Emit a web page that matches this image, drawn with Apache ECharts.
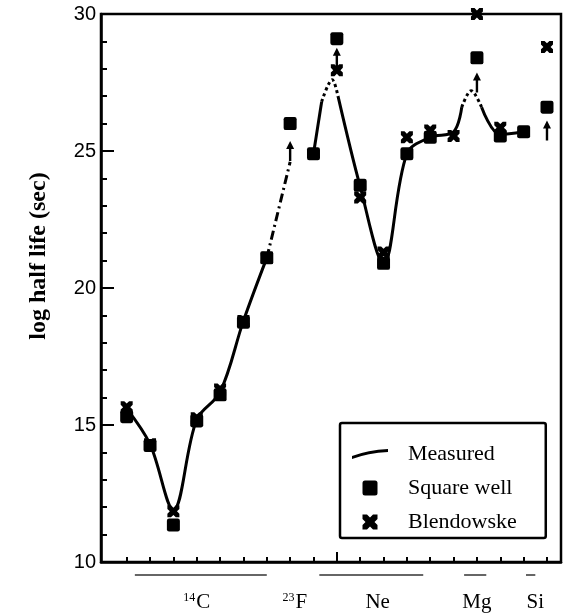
<!DOCTYPE html>
<html>
<head>
<meta charset="utf-8">
<script src="https://cdn.jsdelivr.net/npm/echarts@6/dist/echarts.min.js"></script>
<style>
  html, body { margin: 0; padding: 0; background: #fff; }
  #chart { width: 563px; height: 613px; }
</style>
</head>
<body>
<div id="chart"></div>
<script>
// x positions are tick numbers (one tick per decay case)
const tickPos = [0, 1, 2, 3, 4, 5, 6, 7, 8, 9, 10, 11, 12, 13, 14, 15, 16, 17, 18];
const labelPos = [3.0, 7.2, 10.75, 15.0, 17.5];
const labelMass = ['14', '23', '', '', ''];
const labelElem = ['C', 'F', 'Ne', 'Mg', 'Si'];
const groupBars = [[0.35, 6.0], [8.25, 12.7], [14.45, 15.4], [17.1, 17.5]];

const squareWell = [15.3, 14.25, 11.35, 15.15, 16.1, 18.75, 21.1, 26.0, 24.9, 29.1, 23.75, 20.9, 24.9, 25.5, null, 28.4, 25.55, 25.7, 26.6];
const blendowske = [15.65, 14.3, 11.85, 15.25, 16.3, 18.8, 21.1, null, null, 27.95, 23.3, 21.3, 25.5, 25.75, 25.55, 30.0, 25.85, null, 28.8];

// measured curve, split where it is solid / dotted / a lower limit
const measuredA = [[0, 15.6], [1, 14.3], [2, 11.9], [3, 15.2], [4, 16.2], [5, 18.8], [6, 21.1]];
const measuredLimitF = [[6, 21.1], [7, 24.6]];
const measuredB = [[8, 24.9], [8.35, 26.8]];
const measuredPeakNe = [[8.35, 26.8], [8.8, 27.6], [9.05, 27.0]];
const measuredC = [[9.05, 27.0], [10, 23.7], [11, 20.9], [12, 24.9], [13, 25.5], [14, 25.7], [14.35, 26.6]];
const measuredPeakMg = [[14.35, 26.6], [14.75, 27.2], [15.2, 26.6]];
const measuredD = [[15.2, 26.6], [16, 25.6], [17, 25.7]];
const lowerLimits = [[7, 25.0], [9, 28.4], [15, 27.5], [18, 25.75]];

const X_MIN = -1.1, X_MAX = 18.6;
const crossPath = 'path://M0,0 L3,0 L5,2 L7,0 L10,0 L10,3 L8,5 L10,7 L10,10 L7,10 L5,8 L3,10 L0,10 L0,7 L2,5 L0,3 Z';
const squarePath = 'path://M2,0 L10,0 Q12,0 12,2 L12,10 Q12,12 10,12 L2,12 Q0,12 0,10 L0,2 Q0,0 2,0 Z';
const arrowPath = 'path://M5,0 L10,8 L6.5,8 L6.5,20 L3.5,20 L3.5,8 L0,8 Z';
const strokePath = 'path://M0,7 Q16,1 36,0 L36,3 Q16,4 0,10 Z';

const chart = echarts.init(document.getElementById('chart'));

function lineSeries(name, data, type) {
  return {
    name: name,
    type: 'line',
    data: data,
    smooth: 0.35,
    symbol: 'none',
    silent: true,
    itemStyle: { color: '#000' },
    lineStyle: { color: '#000', width: 3, type: type || 'solid' },
    z: 2
  };
}

const option = {
  backgroundColor: '#fff',
  animation: false,
  grid: {
    left: 101, right: 2, top: 14, bottom: 48,
    show: true, borderColor: '#000', borderWidth: 2.5
  },
  legend: {
    data: [
      { name: 'Measured', icon: strokePath },
      { name: 'Square well', icon: squarePath },
      { name: 'Blendowske', icon: crossPath }
    ],
    orient: 'vertical',
    left: 340, top: 423,
    padding: [20, 29, 5, 12],
    itemWidth: 36, itemHeight: 15, itemGap: 12,
    symbolKeepAspect: true,
    borderColor: '#000', borderWidth: 2.5, borderRadius: 2,
    selectedMode: false,
    itemStyle: { color: '#000', opacity: 1 },
    textStyle: {
      fontFamily: 'Liberation Serif', fontSize: 22, color: '#000',
      lineHeight: 22, padding: [0, 0, 0, 15]
    }
  },
  xAxis: [
    {
      type: 'value', min: X_MIN, max: X_MAX,
      splitLine: { show: false },
      axisLine: { onZero: false, lineStyle: { color: '#000', width: 2.5 } },
      axisTick: { inside: true, length: 5, customValues: tickPos, lineStyle: { color: '#000', width: 2 } },
      axisLabel: {
        customValues: labelPos,
        margin: 30,
        color: '#000',
        formatter: function (v) {
          for (let i = 0; i < labelPos.length; i++) {
            if (Math.abs(labelPos[i] - v) < 1e-6) {
              return (labelMass[i] ? '{m|' + labelMass[i] + '}' : '') + '{e|' + labelElem[i] + '}';
            }
          }
          return '';
        },
        rich: {
          m: { fontFamily: 'Liberation Serif', fontSize: 12, color: '#000', padding: [0, 1, 9, 0] },
          e: { fontFamily: 'Liberation Serif', fontSize: 21, color: '#000' }
        }
      }
    },
    {
      type: 'value', min: X_MIN, max: X_MAX, position: 'bottom',
      splitLine: { show: false },
      axisLine: { show: false, onZero: false },
      axisTick: { inside: true, length: 10, customValues: [9], lineStyle: { color: '#000', width: 2 } },
      axisLabel: { show: false }
    }
  ],
  yAxis: {
    type: 'value', min: 10, max: 30, interval: 5,
    name: 'log half life (sec)',
    nameLocation: 'middle',
    nameGap: 50,
    nameRotate: 90,
    nameTextStyle: {
      fontFamily: 'Liberation Serif', fontWeight: 'bold', fontSize: 24, color: '#000',
      padding: [0, 0, 0, 64]
    },
    splitLine: { show: false },
    axisLine: { onZero: false, lineStyle: { color: '#000', width: 2.5 } },
    axisTick: { inside: true, length: 13, lineStyle: { color: '#000', width: 2 } },
    minorTick: { show: true, splitNumber: 5, length: 6, lineStyle: { color: '#000', width: 2 } },
    axisLabel: { fontFamily: 'Liberation Sans', fontSize: 20, color: '#000', margin: 5 }
  },
  series: [
    lineSeries('Measured', measuredA),
    lineSeries('measured-limit-F', measuredLimitF, [9, 4, 2, 4]),
    lineSeries('measured-B', measuredB),
    lineSeries('measured-peak-Ne', measuredPeakNe, 'dotted'),
    lineSeries('measured-C', measuredC),
    lineSeries('measured-peak-Mg', measuredPeakMg, 'dotted'),
    lineSeries('measured-D', measuredD),
    {
      name: 'Blendowske',
      type: 'scatter',
      data: tickPos.map((x, i) => [x, blendowske[i]]).filter(d => d[1] !== null),
      symbol: crossPath,
      symbolSize: 12,
      itemStyle: { color: '#000', opacity: 1 },
      z: 3
    },
    {
      name: 'Square well',
      type: 'scatter',
      data: tickPos.map((x, i) => [x, squareWell[i]]).filter(d => d[1] !== null),
      symbol: squarePath,
      symbolSize: 13,
      itemStyle: { color: '#000', opacity: 1 },
      z: 4
    },
    {
      name: 'limit',
      type: 'scatter',
      data: lowerLimits,
      symbol: arrowPath,
      symbolSize: [8, 20],
      itemStyle: { color: '#000', opacity: 1 },
      z: 5
    }
  ]
};

chart.setOption(option);

// short bars under the x labels that group the cases by emitted cluster
const barY = chart.convertToPixel({ yAxisIndex: 0 }, 10) + 13;
chart.setOption({
  graphic: groupBars.map(b => ({
    type: 'line',
    shape: {
      x1: chart.convertToPixel({ xAxisIndex: 0 }, b[0]), y1: barY,
      x2: chart.convertToPixel({ xAxisIndex: 0 }, b[1]), y2: barY
    },
    style: { stroke: '#333', lineWidth: 1.5 },
    silent: true
  }))
});
</script>
</body>
</html>
